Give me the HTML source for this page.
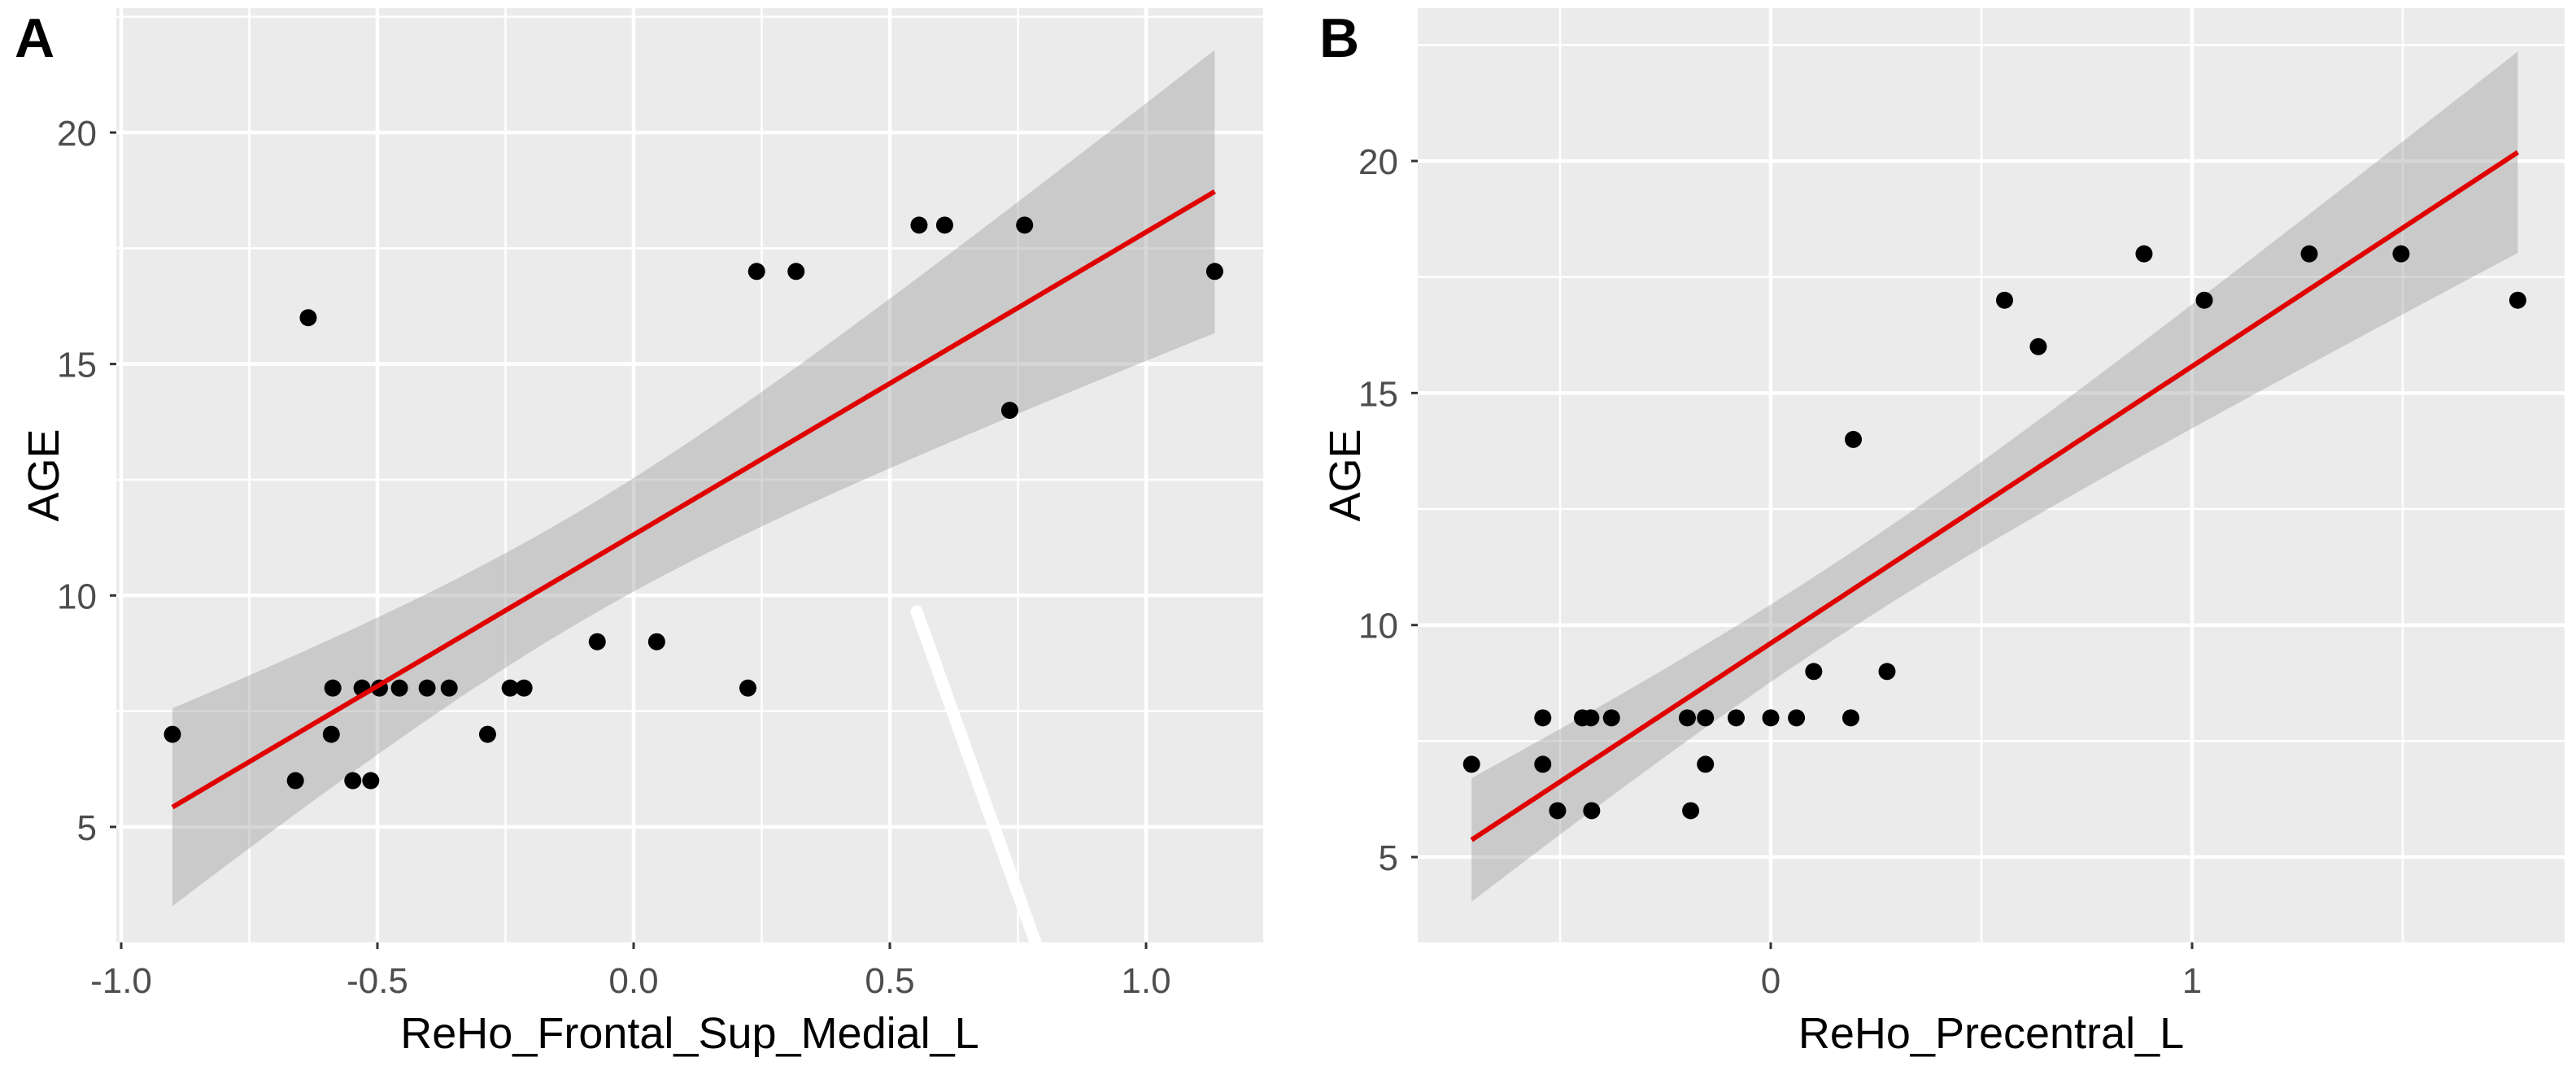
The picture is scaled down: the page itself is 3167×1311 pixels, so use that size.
<!DOCTYPE html>
<html><head><meta charset="utf-8">
<style>
html,body{margin:0;padding:0;background:#fff;}
svg{display:block;font-family:"Liberation Sans",sans-serif;}
</style></head>
<body>
<svg id="fig" width="3167" height="1311" viewBox="0 0 3167 1311" xmlns="http://www.w3.org/2000/svg">
  <text x="18" y="70" font-size="68" font-weight="bold" fill="#000">A</text>
  <text x="1622" y="70" font-size="68" font-weight="bold" fill="#000">B</text>
  <g id="panelA"></g>
  <g id="panelB"></g>
</svg>
<script>
// Panel A data
const aX = [-0.90,-0.635,-0.66,-0.59,-0.587,-0.53,-0.548,-0.513,-0.496,-0.457,-0.403,-0.36,-0.285,-0.241,-0.214,-0.071,0.045,0.223,0.24,0.317,0.557,0.607,0.734,0.763,1.134];
const aY = [7,16,6,7,8,8,6,6,8,8,8,8,7,8,8,9,9,8,17,17,18,18,14,18,17];
const aXTicks = [-1.0,-0.5,0.0,0.5,1.0];
const aXTickLabels = ["-1.0","-0.5","0.0","0.5","1.0"];
const aXMinor = [-0.75,-0.25,0.25,0.75];
const aYTicks = [5,10,15,20];
const aYMinor = [7.5,12.5,17.5,22.5];
// Panel B data
const bX = [-0.71,-0.541,-0.541,-0.506,-0.447,-0.427,-0.425,-0.378,-0.198,-0.19,-0.155,-0.155,-0.082,0,0.061,0.102,0.19,0.196,0.276,0.555,0.635,0.886,1.029,1.278,1.496,1.773];
const bY = [7,8,7,6,8,8,6,8,8,6,8,7,8,8,8,9,8,14,9,17,16,18,17,18,18,17];
const bXTicks = [0,1];
const bXTickLabels = ["0","1"];
const bXMinor = [-0.5,0.5,1.5];
const bYTicks = [5,10,15,20];
const bYMinor = [7.5,12.5,17.5,22.5];

const NS = "http://www.w3.org/2000/svg";
function mk(parent, tag, attrs){
  const e = document.createElementNS(NS, tag);
  for (const k in attrs) e.setAttribute(k, attrs[k]);
  parent.appendChild(e);
  return e;
}

function drawPanel(g, cfg){
  const L=cfg.left,R=cfg.right,T=cfg.top,B=cfg.bottom;
  const sx = v => cfg.x0 + v*cfg.xs;
  const sy = v => cfg.y0 - v*cfg.ys;
  const bg = mk(g,'rect',{x:L,y:T,width:R-L,height:B-T,fill:'#ebebeb'});
  
  
  cfg.xMinor.forEach(v=>{ const l=mk(g,'line',{x1:sx(v),x2:sx(v),y1:T,y2:B,stroke:'#fff','stroke-width':2.5});
      });
  cfg.yMinor.forEach(v=>{ const l=mk(g,'line',{x1:L,x2:R,y1:sy(v),y2:sy(v),stroke:'#fff','stroke-width':2.5});
      });
  cfg.xTicks.forEach((v,i)=>{
    const l=mk(g,'line',{x1:sx(v),x2:sx(v),y1:T,y2:B,stroke:'#fff','stroke-width':4.5});
     
    const t=mk(g,'line',{x1:sx(v),x2:sx(v),y1:B,y2:B+8,stroke:'#333','stroke-width':3});
     
    const tx=mk(g,'text',{x:sx(v),y:B+62,'font-size':44,fill:'#4d4d4d','text-anchor':'middle'});
    tx.textContent=cfg.xTickLabels[i];
     
  });
  cfg.yTicks.forEach(v=>{
    const l=mk(g,'line',{x1:L,x2:R,y1:sy(v),y2:sy(v),stroke:'#fff','stroke-width':4.5});
     
    const t=mk(g,'line',{x1:L-8,x2:L,y1:sy(v),y2:sy(v),stroke:'#333','stroke-width':3});
     
    const tx=mk(g,'text',{x:L-24,y:sy(v)+16,'font-size':44,fill:'#4d4d4d','text-anchor':'end'});
    tx.textContent=String(v);
     
  });
  // regression
  const xs=cfg.xs_data, ys=cfg.ys_data, n=xs.length;
  const mx=xs.reduce((a,b)=>a+b,0)/n, my=ys.reduce((a,b)=>a+b,0)/n;
  let sxx=0,sxy=0; for(let i=0;i<n;i++){sxx+=(xs[i]-mx)**2; sxy+=(xs[i]-mx)*(ys[i]-my);}
  const b1=sxy/sxx, b0=my-b1*mx;
  let sse=0; for(let i=0;i<n;i++){sse+=(ys[i]-b0-b1*xs[i])**2;}
  const s=Math.sqrt(sse/(n-2)), tq=2.07;
  const xmin=Math.min(...xs), xmax=Math.max(...xs);
  const N=80, up=[], lo=[], fit=[];
  for(let k=0;k<=N;k++){
    const x=xmin+(xmax-xmin)*k/N, yh=b0+b1*x;
    const se=s*Math.sqrt(1/n+(x-mx)**2/sxx);
    up.push([sx(x),sy(yh+tq*se)]); lo.push([sx(x),sy(yh-tq*se)]); fit.push([sx(x),sy(yh)]);
  }
  const band=mk(g,'polygon',{points:up.concat(lo.reverse()).map(p=>p.join(',')).join(' '),fill:'#999','fill-opacity':0.4});
   
  for(let i=0;i<n;i++){
    const c=mk(g,'circle',{cx:sx(xs[i]),cy:sy(ys[i]),r:10.5,fill:'#000'});
     
  }
  const line=mk(g,'polyline',{points:fit.map(p=>p.join(',')).join(' '),fill:'none',stroke:'#e00000','stroke-width':6});
   
  const xt=mk(g,'text',{x:(L+R)/2,y:B+130,'font-size':54,fill:'#000','text-anchor':'middle'});
  xt.textContent=cfg.xTitle;
   
  const yt=mk(g,'text',{x:0,y:0,'font-size':54,fill:'#000','text-anchor':'middle',transform:`translate(${cfg.yTitleX},${(T+B)/2}) rotate(-90)`});
  yt.textContent='AGE';
   
}

const gA=document.getElementById('panelA');
drawPanel(gA,{left:143,right:1553,top:10,bottom:1159,x0:779,xs:630,y0:163+20*56.93,ys:56.93,
  xTicks:aXTicks,xTickLabels:aXTickLabels,xMinor:aXMinor,yTicks:aYTicks,yMinor:aYMinor,
  xs_data:aX,ys_data:aY,xTitle:'ReHo_Frontal_Sup_Medial_L',yTitleX:72});
const wl=mk(gA,'line',{x1:1127,y1:752,x2:1273,y2:1159,stroke:'#fff','stroke-width':15,'stroke-linecap':'round'});



const gB=document.getElementById('panelB');
drawPanel(gB,{left:1743,right:3153,top:10,bottom:1159,x0:2177,xs:518,y0:198+20*57.07,ys:57.07,
  xTicks:bXTicks,xTickLabels:bXTickLabels,xMinor:bXMinor,yTicks:bYTicks,yMinor:bYMinor,
  xs_data:bX,ys_data:bY,xTitle:'ReHo_Precentral_L',yTitleX:1672});
</script>
</body></html>
